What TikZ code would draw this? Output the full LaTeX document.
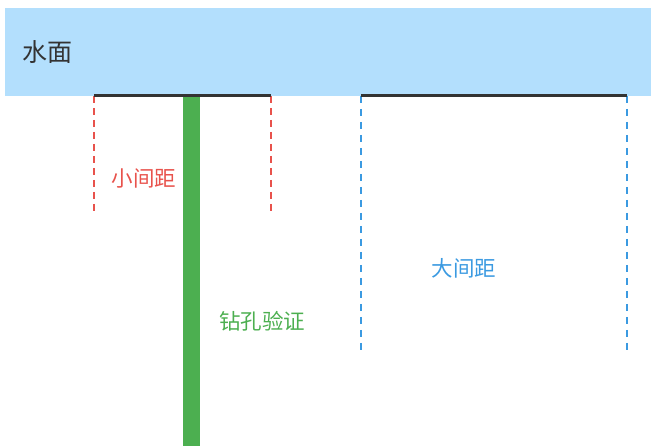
\documentclass[tikz,border=0pt]{standalone}
\usepackage{fontspec}
\newfontfamily\cjk{Noto Sans CJK SC}
\definecolor{water}{HTML}{B3DFFD}
\definecolor{redc}{HTML}{E8524C}
\definecolor{bluec}{HTML}{3B9AE1}
\definecolor{greenc}{HTML}{4CAF50}
\definecolor{darkc}{HTML}{333333}
\tikzset{
  lbl/.style={font=\cjk\fontsize{21.5}{21.5}\selectfont, inner sep=0pt},
  redline/.style={redc, line width=1.5pt, dash pattern=on 7pt off 5pt},
  blueline/.style={bluec, line width=1.5pt, dash pattern=on 7pt off 6pt},
  barline/.style={darkc, line width=3pt},
}
\begin{document}
\begin{tikzpicture}[x=1pt,y=-1pt]
\useasboundingbox (0,0) rectangle (651,446);
\fill[water] (5,8) rectangle (651,96);
\node[anchor=west, inner sep=0pt, font=\cjk\fontsize{25}{25}\selectfont, text=darkc] (water) at (22,52) {水面};
% coordinates
\coordinate (r1t) at (94,96); \coordinate (r1b) at (94,212);
\coordinate (r2t) at (271,96); \coordinate (r2b) at (271,212);
\coordinate (b1t) at (361,96); \coordinate (b1b) at (361,355);
\coordinate (b2t) at (627,96); \coordinate (b2b) at (627,355);
\draw[redline] (r1t) -- (r1b);
\draw[redline] (r2t) -- (r2b);
\draw[blueline] (b1t) -- (b1b);
\draw[blueline] (b2t) -- (b2b);
\draw[barline] (r1t) -- (r2t);
\draw[barline] (b1t) -- (b2t);
\fill[greenc] (183,97) rectangle (200,446);
\node[lbl, text=redc] (small) at (144,178) {小间距};
\node[lbl, text=bluec] (large) at (464,268) {大间距};
\node[lbl, text=greenc] (drill) at (262,321) {钻孔验证};
\end{tikzpicture}
\end{document}
